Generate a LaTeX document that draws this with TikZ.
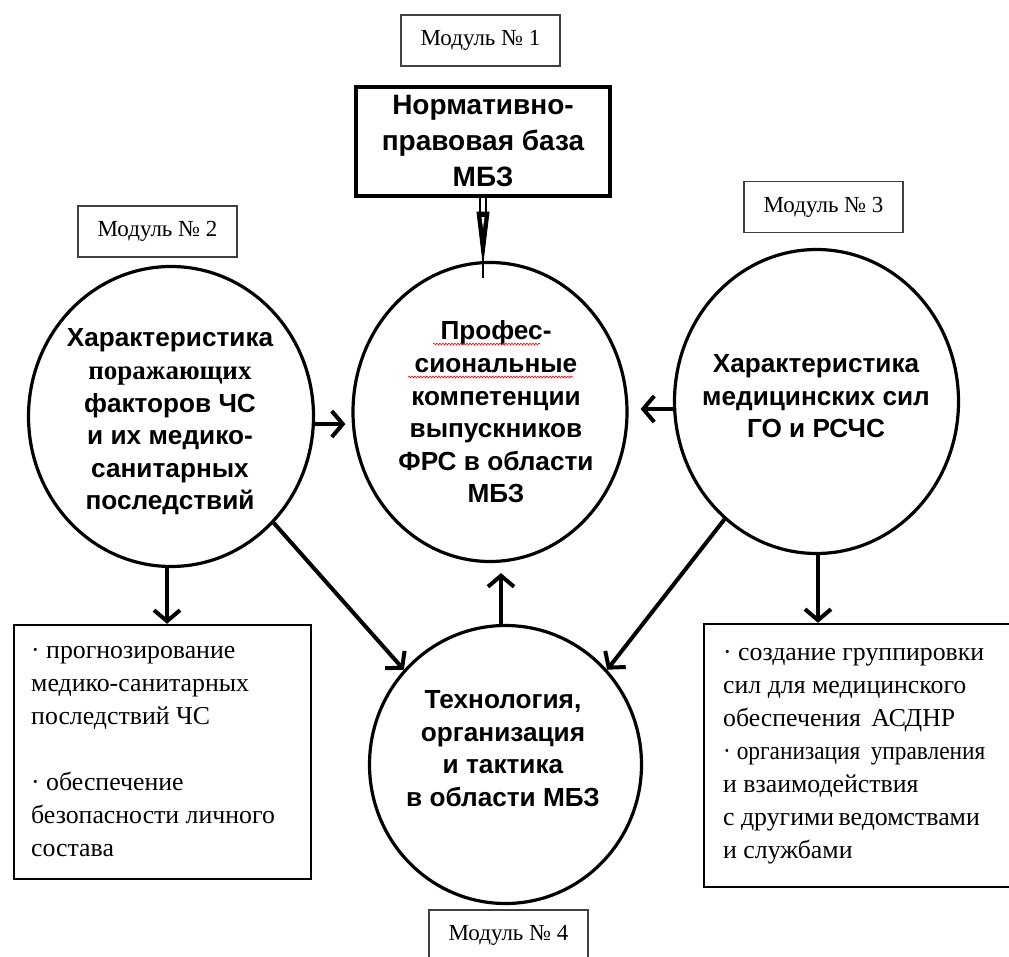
\documentclass[tikz,border=0pt]{standalone}
\usepackage{fontspec}
\setmainfont{Liberation Serif}
\newfontfamily\arialf{Liberation Sans}
\usetikzlibrary{shapes.geometric,arrows.meta,decorations.pathmorphing}
\begin{document}
\begin{tikzpicture}[x=1pt,y=-1pt,
  modbox/.style={draw=black!75, line width=1.2pt, minimum width=159pt, minimum height=51pt,
    inner sep=0pt, font=\fontsize{23}{26}\selectfont},
  circ/.style={draw, ellipse, line width=3.2pt, inner sep=0pt},
  ctext/.style={align=center, inner sep=0pt, font=\arialf\bfseries\fontsize{26.2}{32.6}\selectfont},
  tbox/.style={draw, line width=2.4pt, inner sep=0pt},
  ttext/.style={align=left, anchor=north west, inner sep=0pt, font=\fontsize{25.8}{33}\selectfont},
  arr/.style={line width=4pt, -{Straight Barb[length=11pt,width=26pt]}},
  squig/.style={red, line width=0.6pt, decorate, decoration={snake, amplitude=0.9pt, segment length=3pt}},
]
\useasboundingbox (0,0) rectangle (1009,957);
\fill[white] (0,0) rectangle (1009,957);

% module labels
\node[modbox] (m1) at (480.5,40.5) {Модуль № 1};
\node[modbox] (m2) at (157.5,231.5) {Модуль № 2};
\node[modbox] (m3) at (823.5,207) {Модуль № 3};
\node[modbox] (m4) at (508.5,935.5) {Модуль № 4};

% top box
\node[draw, line width=4.2pt, minimum width=254pt, minimum height=109pt, align=center, inner sep=0pt,
  font=\arialf\bfseries\fontsize{28}{36}\selectfont] (N) at (483,141.5) {Нормативно-\\правовая база\\МБЗ};

% circles
\node[circ, minimum width=274pt, minimum height=299pt] (C) at (490,412) {};
\node[circ, minimum width=285pt, minimum height=300pt] (L) at (171,416.5) {};
\node[circ, minimum width=284pt, minimum height=304pt] (R) at (816.5,401.5) {};
\node[circ, minimum width=272pt, minimum height=278pt] (T) at (505.5,764.5) {};

\node[ctext] (Ct) at (496,412) {Профес-\hspace{14pt}\\сиональные\hspace{14pt}\\компетенции\\выпускников\\ФРС в области\\МБЗ};
\node[ctext] (Lt) at (170,422) {Характеристика\\{\rmfamily\bfseries\fontsize{27}{32.6}\selectfont поражающих}\\факторов ЧС\\и их медико-\\санитарных\\последствий};
\node[ctext] (Rt) at (816,396.5) {Характеристика\\медицинских сил\\ГО и РСЧС};
\node[ctext] (Tt) at (503,748.5) {Технология,\\организация\\и тактика\\в области МБЗ};

% spell-check squiggles
\draw[squig] (433,344) -- (540,344);
\draw[squig] (408,377) -- (573,377);

% text boxes
\node[tbox, minimum width=297pt, minimum height=254pt] (LB) at (162.5,752) {};
\node[tbox, minimum width=310pt, minimum height=263pt] (RB) at (859,755.5) {};
\node[ttext] (LBt) at (31,640) {\rule{0pt}{18pt}· прогнозирование\\медико-санитарных\\последствий ЧС\\[33pt]· обеспечение\\безопасности личного\\состава};
\node[ttext] (RBt) at (723,642) {\rule{0pt}{18pt}· создание группировки\\сил для медицинского\\обеспечения\hspace{4pt} АСДНР\\\scalebox{0.905}[1]{· организация\hspace{5pt} управления}\\и взаимодействия\\с другими\hspace{-2pt} ведомствами\\и службами};

% top spear connector
\draw[line width=1.3pt] ([xshift=-3pt]N.south) -- ++(0,16);
\draw[line width=1.3pt] ([xshift=3pt]N.south) -- ++(0,16);
\filldraw[line width=1pt] ([xshift=-6pt,yshift=-14pt]N.south) -- ([xshift=6pt,yshift=-14pt]N.south)
   -- ([yshift=-64pt]N.south) -- cycle;
\fill[white] ([xshift=-1.5pt,yshift=-19pt]N.south) -- ([xshift=1.5pt,yshift=-19pt]N.south) -- ([yshift=-30pt]N.south) -- cycle;
\draw[line width=1.3pt] ([yshift=-50pt]N.south) -- ([yshift=-80pt]N.south);

% arrows
\draw[arr] (L.-3) -- ([xshift=-6pt]C.west |- L.-3);
\draw[arr] (R.183) -- ([xshift=12pt]C.east |- R.183);
\draw[arr] ([xshift=-4pt]L.south) -- ([xshift=-4pt]L.south |- LB.north);
\draw[arr] ([xshift=1.5pt]R.south) -- ([xshift=1.5pt]R.south |- RB.north);
\draw[arr] (L.-46) -- (T.137);
\draw[arr] (R.-128) -- (T.43);
\draw[arr] ([xshift=-4.5pt]T.north) -- ([xshift=-4.5pt,yshift=-10pt]T.north |- C.south);
\end{tikzpicture}
\end{document}
